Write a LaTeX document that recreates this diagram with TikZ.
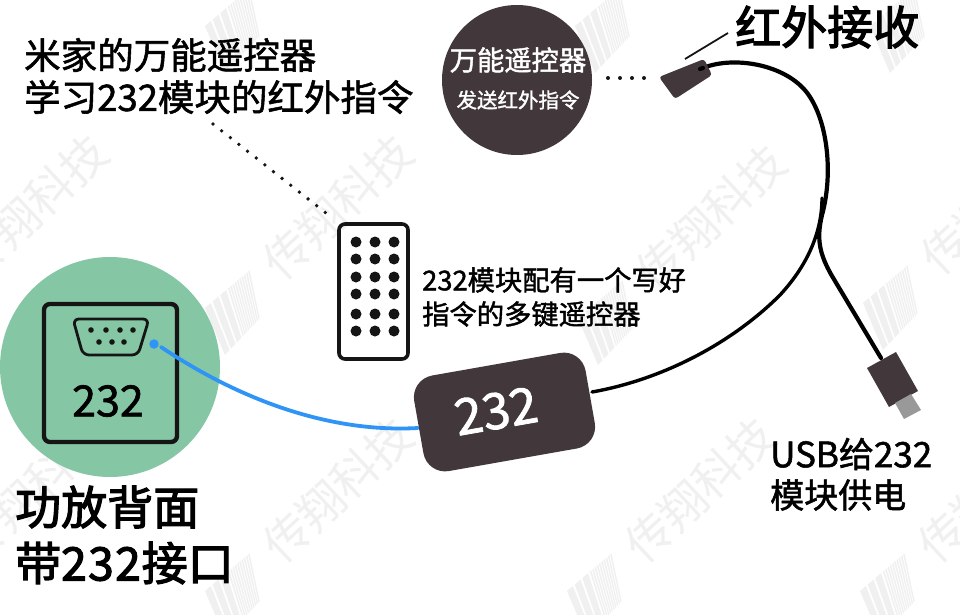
\documentclass[tikz,border=0pt]{standalone}
\usepackage{fontspec}
\setmainfont{Noto Sans CJK SC}
\newfontfamily\medcjk{Noto Sans CJK SC}[FakeBold=1.5]
\newfontfamily\boldcjk{Noto Sans CJK SC}[FakeBold=2.6]
\usetikzlibrary{calc}
\definecolor{darkbrown}{HTML}{42383B}
\definecolor{mint}{HTML}{85C7A4}
\definecolor{wirblue}{HTML}{2F94F5}
\definecolor{inkblk}{HTML}{151515}
\definecolor{wmgray}{HTML}{F0F0F0}
\tikzset{
  x=1pt,y=-1pt,
  lbl/.style={inner sep=0pt,anchor=west,align=left,text=black},
  small/.style={lbl,font=\medcjk\fontsize{27.3}{34}\selectfont},
  mid/.style={lbl,font=\medcjk\fontsize{36.5}{42}\selectfont},
  big/.style={lbl,font=\boldcjk\fontsize{46}{56}\selectfont},
  wire/.style={draw=black,line width=4.2pt,line cap=round},
  keydot/.style={circle,fill=inkblk,inner sep=0pt,minimum size=11pt},
  pindot/.style={circle,fill=inkblk,inner sep=0pt,minimum size=5.6pt},
  irdot/.style={circle,fill=inkblk,inner sep=0pt,minimum size=4pt},
  wmtext/.style={inner sep=0pt,text=wmgray,rotate=43,font=\fontsize{46}{46}\selectfont},
  wmark/.pic={
    \foreach \t/\w in {0/.13,.17/.13,.34/.13,.51/.03,.56/.03,.61/.03,.66/.03,.71/.03,.76/.03,.81/.03,.86/.03,.91/.03,.96/.03}{
      \fill[wmgray] ($(0,38)!\t!(45,0)$) -- ($(0,38)!{\t+\w}!(45,0)$) -- ($(20,85)!{\t+\w}!(55,48)$) -- ($(20,85)!\t!(55,48)$) -- cycle;
    }
  },
}
\begin{document}
\begin{tikzpicture}
\useasboundingbox (0,0) rectangle (960,615);
\fill[white] (0,0) rectangle (960,615);
% watermark
\begin{scope}
\clip (0,0) rectangle (960,615);
\foreach \px/\py in {-100/270,205/270,578/280,863/265,-100/553,205/553,567/553,860/553,205/-12,575/-12,870/-12}{
  \pic at (\px,\py) {wmark};
  \node[wmtext] (wm\px\py) at ($(\px,\py)+(133,-63)$) {传翔科技};
}
\end{scope}
% green port panel
\node[circle,fill=mint,minimum size=220pt,inner sep=0pt] (panel) at (110,367) {};
\draw[inkblk,line width=4.4pt,rounded corners=6pt] (44,304) rectangle (177,442);
\draw[inkblk,line width=2.8pt,rounded corners=6pt,line join=round] (73,319) -- (149,319) -- (138,355) -- (83,355) -- cycle;
\foreach \x in {91,106,120,133}{\node[pindot] (pa\x) at (\x,330) {};}
\foreach \x in {99,112,124}{\node[pindot] (pb\x) at (\x,342) {};}
\node[inner sep=0pt,text=black,font=\medcjk\fontsize{43}{43}\selectfont] (portlabel) at (108,401) {232};
% cables
\coordinate (irend) at (703,68);
\coordinate (usbend) at (881,358);
\coordinate (badgeend) at (592,392);
\coordinate (badgeblue) at (418,428);
\coordinate (portdot) at (154,344);
\draw[wire] (irend) .. controls (735,55) and (790,65) .. (810,97) .. controls (828,125) and (833,175) .. (822,215) .. controls (816,240) and (820,255) .. (832,276) -- (usbend);
\draw[wire,line width=3.4pt] (badgeend) .. controls (660,380) and (730,345) .. (780,295) .. controls (805,268) and (822,235) .. (822,198);
% blue cable
\draw[wirblue,line width=3.8pt,line cap=round] (161,347) .. controls (240,400) and (330,433) .. (badgeblue);
\node[circle,fill=wirblue,inner sep=0pt,minimum size=9.5pt] (bluedot) at (portdot) {};
% IR head
\fill[darkbrown,rounded corners=3pt] (659,77) -- (704,59) -- (712,75) -- (675,99) -- cycle;
\draw[wire] (700,69) -- (irend);
\coordinate (ptra) at (685,59);
\coordinate (ptrb) at (728,33);
\draw[inkblk,line width=1.8pt] (ptra) -- (ptrb);
% USB plug
\fill[darkbrown] (867,368) -- (896,352) -- (918,391) -- (889,407) -- cycle;
\fill[gray!80] (895,403) -- (911,394) -- (921,410) -- (904,419) -- cycle;
% dark circle
\node[circle,fill=darkbrown,minimum size=150pt,inner sep=0pt] (remotecircle) at (517,80) {};
\node[inner sep=0pt,text=white,font=\medcjk\fontsize{27.3}{27}\selectfont] (c1) at (518,60) {万能遥控器};
\node[inner sep=0pt,text=white,font=\medcjk\fontsize{20.5}{20.5}\selectfont] (c2) at (518,100) {发送红外指令};
\foreach \x in {608,620,632,644}{\node[irdot] (ir\x) at (\x,78) {};}
% dotted leader
\coordinate (leadA) at (213,124);
\coordinate (leadB) at (331,217);
\draw[inkblk,line width=3.8pt,line cap=round,dash pattern=on 0pt off 11pt] (leadA) -- (leadB);
% remote
\draw[inkblk,line width=3.6pt,rounded corners=6pt] (339,224) rectangle (408,359);
\foreach \x in {356,375,394}{\foreach \y in {242,259,277,294,314,331}{\node[keydot] (k\x\y) at (\x,\y) {};}}
% badge
\node[rectangle,fill=darkbrown,rounded corners=22pt,minimum width=174pt,minimum height=97pt,inner sep=0pt,rotate=10] (badge) at (504.5,412) {};
\node[inner sep=0pt,text=white,rotate=10,font=\medcjk\fontsize{50}{50}\selectfont] (badgelabel) at (496,411) {232};
% texts
\node[mid] (t1) at (24,55) {米家的万能遥控器};
\node[mid] (t2) at (24,97) {学习232模块的红外指令};
\node[big] (t3) at (735,27) {红外接收};
\node[small] (t4) at (422,280) {232模块配有一个写好};
\node[small] (t5) at (422,314) {指令的多键遥控器};
\node[lbl,font=\medcjk\fontsize{35}{35}\selectfont] (t6) at (770,454) {USB给232};
\node[lbl,font=\medcjk\fontsize{34}{34}\selectfont] (t7) at (770,495) {模块供电};
\node[big] (t8) at (15,507) {功放背面};
\node[big] (t9) at (15,563) {带2\kern1.5pt 3\kern1.5pt 2\kern1pt 接口};
\end{tikzpicture}
\end{document}
